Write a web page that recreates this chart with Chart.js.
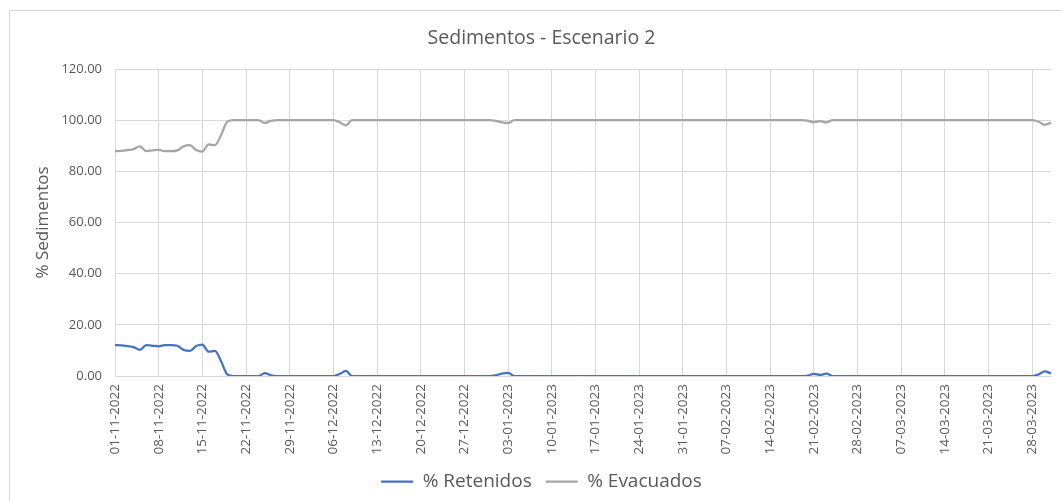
<!DOCTYPE html>
<html>
<head>
<meta charset="utf-8">
<script src="https://cdn.jsdelivr.net/npm/chart.js@4.4.1/dist/chart.umd.min.js"></script>
<style>
  html, body { margin: 0; padding: 0; background: #fff; }
  #wrap { position: relative; width: 1061px; height: 501px; }
</style>
</head>
<body>
<div id="wrap"><canvas id="myChart"></canvas></div>
<script>
// daily categories, 01-11-2022 .. 31-03-2023
const startDate = '2022-11-01';
const endDate = '2023-03-31';

// labelled ticks on the date axis (one per week)
const tickLabels = [
  '01-11-2022', '08-11-2022', '15-11-2022', '22-11-2022', '29-11-2022',
  '06-12-2022', '13-12-2022', '20-12-2022', '27-12-2022', '03-01-2023',
  '10-01-2023', '17-01-2023', '24-01-2023', '31-01-2023', '07-02-2023',
  '14-02-2023', '21-02-2023', '28-02-2023', '07-03-2023', '14-03-2023',
  '21-03-2023', '28-03-2023'
];

// % Retenidos, one value per day
const retenidos = [
  12.1, 12.0, 11.7, 11.3, 10.2, 12.1, 11.8, 11.6, 12.1, 12.1,
  11.8, 10.2, 9.8, 11.7, 12.3, 9.5, 9.8, 5.8, 0.6, 0,
  0, 0, 0, 0, 1.1, 0.3, 0, 0, 0, 0,
  0, 0, 0, 0, 0, 0, 0.8, 2.0, 0, 0,
  0, 0, 0, 0, 0, 0, 0, 0, 0, 0,
  0, 0, 0, 0, 0, 0, 0, 0, 0, 0,
  0, 0.3, 0.9, 1.2, 0, 0, 0, 0, 0, 0,
  0, 0, 0, 0, 0, 0, 0, 0, 0, 0,
  0, 0, 0, 0, 0, 0, 0, 0, 0, 0,
  0, 0, 0, 0, 0, 0, 0, 0, 0, 0,
  0, 0, 0, 0, 0, 0, 0, 0, 0, 0,
  0, 0.2, 0.8, 0.4, 0.9, 0, 0, 0, 0, 0,
  0, 0, 0, 0, 0, 0, 0, 0, 0, 0,
  0, 0, 0, 0, 0, 0, 0, 0, 0, 0,
  0, 0, 0, 0, 0, 0, 0, 0, 0.6, 1.8,
  1.0
];

// % Evacuados, one value per day
const evacuados = [
  87.9, 88.0, 88.3, 88.7, 89.8, 87.9, 88.2, 88.4, 87.9, 87.9,
  88.2, 89.8, 90.2, 88.3, 87.7, 90.5, 90.2, 94.2, 99.4, 100,
  100, 100, 100, 100, 98.9, 99.7, 100, 100, 100, 100,
  100, 100, 100, 100, 100, 100, 99.2, 98.0, 100, 100,
  100, 100, 100, 100, 100, 100, 100, 100, 100, 100,
  100, 100, 100, 100, 100, 100, 100, 100, 100, 100,
  100, 99.7, 99.1, 98.8, 100, 100, 100, 100, 100, 100,
  100, 100, 100, 100, 100, 100, 100, 100, 100, 100,
  100, 100, 100, 100, 100, 100, 100, 100, 100, 100,
  100, 100, 100, 100, 100, 100, 100, 100, 100, 100,
  100, 100, 100, 100, 100, 100, 100, 100, 100, 100,
  100, 99.8, 99.2, 99.6, 99.1, 100, 100, 100, 100, 100,
  100, 100, 100, 100, 100, 100, 100, 100, 100, 100,
  100, 100, 100, 100, 100, 100, 100, 100, 100, 100,
  100, 100, 100, 100, 100, 100, 100, 100, 99.4, 98.2,
  99.0
];

const fmt = d => {
  const dd = String(d.getUTCDate()).padStart(2, '0');
  const mm = String(d.getUTCMonth() + 1).padStart(2, '0');
  return `${dd}-${mm}-${d.getUTCFullYear()}`;
};

const days = [];
for (let d = new Date(startDate + 'T00:00:00Z'); d <= new Date(endDate + 'T00:00:00Z'); d.setUTCDate(d.getUTCDate() + 1)) {
  days.push(fmt(d));
}

const font = '"Open Sans", "Noto Sans", sans-serif';
const textColor = '#595959';
const gridColor = '#d9d9d9';

// light frame around the whole chart, like the spreadsheet chart area
const framePlugin = {
  id: 'frame',
  beforeDraw(chart) {
    const c = chart.ctx;
    c.save();
    c.fillStyle = '#fff';
    c.fillRect(0, 0, chart.width, chart.height);
    c.strokeStyle = gridColor;
    c.lineWidth = 1;
    c.strokeRect(9.5, 10.5, chart.width + 10, chart.height + 10);
    c.restore();
  }
};

const ctx = document.getElementById('myChart');

const chart = new Chart(ctx, {
  type: 'line',
  data: {
    labels: days,
    datasets: [{
      label: '% Retenidos',
      data: retenidos,
      borderColor: '#4472c4',
      backgroundColor: '#4472c4',
      borderWidth: 2.25,
      pointRadius: 0,
      cubicInterpolationMode: 'monotone'
    },
    {
      label: '% Evacuados',
      data: evacuados,
      borderColor: '#a5a5a5',
      backgroundColor: '#a5a5a5',
      borderWidth: 2.25,
      pointRadius: 0,
      cubicInterpolationMode: 'monotone'
    }]
  },
  options: {
    responsive: true,
    maintainAspectRatio: false,
    animation: false,
    layout: {
      padding: { left: 32, right: 10, top: 0, bottom: 0 }
    },
    plugins: {
      title: {
        display: true,
        text: 'Sedimentos - Escenario 2',
        color: textColor,
        font: { family: font, size: 19.5, weight: 'normal' },
        padding: { top: 26.3, bottom: 19.3 }
      },
      legend: {
        position: 'bottom',
        labels: {
          color: textColor,
          font: { family: font, size: 19 },
          usePointStyle: true,
          pointStyle: 'line',
          pointStyleWidth: 32,
          padding: 14
        }
      },
      tooltip: { enabled: false }
    },
    scales: {
      x: {
        offset: false,
        grid: {
          color: gridColor,
          drawTicks: false
        },
        border: { color: gridColor },
        ticks: {
          autoSkip: false,
          maxRotation: 90,
          minRotation: 90,
          padding: 8,
          color: textColor,
          font: { family: font, size: 13.5 },
          callback: function(value, index) {
            const lbl = this.getLabelForValue(value);
            return tickLabels.includes(lbl) ? lbl : null;
          }
        },
        afterFit: scale => { scale.height = 82; }
      },
      y: {
        min: 0,
        max: 120,
        grid: {
          color: gridColor,
          drawTicks: false
        },
        border: { color: gridColor },
        ticks: {
          stepSize: 20,
          padding: 13,
          color: textColor,
          font: { family: font, size: 13 },
          callback: v => v.toFixed(2)
        },
        title: {
          display: true,
          text: '% Sedimentos',
          color: textColor,
          font: { family: font, size: 17 },
          padding: { top: 1, bottom: 0 }
        },
        afterFit: scale => { scale.width = 83; }
      }
    }
  },
  plugins: [framePlugin]
});
</script>
</body>
</html>
